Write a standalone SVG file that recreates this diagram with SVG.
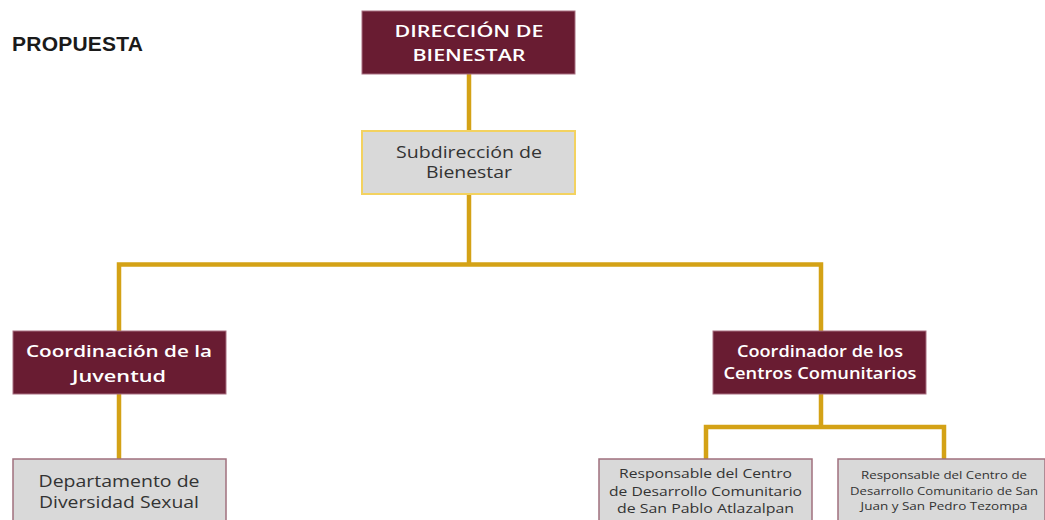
<svg xmlns="http://www.w3.org/2000/svg" width="1045" height="520" viewBox="0 0 1045 520">
<style>
.dark{fill:#691c32;stroke:#a86f80;stroke-width:1}
.gray{fill:#d9d9d9;stroke:#a0707e;stroke-width:1.5}
.sub{fill:#d9d9d9;stroke:#f3d260;stroke-width:2}
.wt{fill:#ffffff;font-family:"Open Sans","Noto Sans",sans-serif;font-weight:600;text-anchor:middle}
.gt{fill:#333333;font-family:"Open Sans","Noto Sans",sans-serif;text-anchor:middle}
.ln{fill:none;stroke:#d4a216;stroke-width:4.5}
</style>
<rect width="1045" height="520" fill="#ffffff"/>
<text x="12" y="51" font-family="'Liberation Sans',Arial,sans-serif" font-weight="bold" font-size="21" fill="#1a1a1a" textLength="131">PROPUESTA</text>
<g id="connectors">
<path class="ln" d="M469 74V131"/>
<path class="ln" d="M469 194V264.5"/>
<path class="ln" d="M119 331V264.5H821V331"/>
<path class="ln" d="M119 394V459"/>
<path class="ln" d="M821 394V427"/>
<path class="ln" d="M706 459V427H944V459"/>
</g>
<g id="direccion">
<rect class="dark" x="362" y="11" width="213" height="63"/>
<text class="wt" font-size="17" x="469" y="37" textLength="149" lengthAdjust="spacingAndGlyphs">DIRECCIÓN DE</text>
<text class="wt" font-size="17" x="469" y="61" textLength="113" lengthAdjust="spacingAndGlyphs">BIENESTAR</text>
</g>
<g id="subdireccion">
<rect class="sub" x="362" y="131" width="213" height="63"/>
<text class="gt" font-size="16" x="469" y="158" textLength="146" lengthAdjust="spacingAndGlyphs">Subdirección de</text>
<text class="gt" font-size="16" x="469" y="178" textLength="86" lengthAdjust="spacingAndGlyphs">Bienestar</text>
</g>
<g id="coord-juventud">
<rect class="dark" x="13" y="331" width="213" height="63"/>
<text class="wt" font-size="17" x="119" y="357" textLength="186" lengthAdjust="spacingAndGlyphs">Coordinación de la</text>
<text class="wt" font-size="17" x="119" y="382" textLength="94" lengthAdjust="spacingAndGlyphs">Juventud</text>
</g>
<g id="diversidad">
<rect class="gray" x="13" y="459" width="213" height="70"/>
<text class="gt" font-size="17" x="119" y="487" textLength="161" lengthAdjust="spacingAndGlyphs">Departamento de</text>
<text class="gt" font-size="17" x="119" y="508" textLength="160" lengthAdjust="spacingAndGlyphs">Diversidad Sexual</text>
</g>
<g id="coord-centros">
<rect class="dark" x="713" y="331" width="213" height="63"/>
<text class="wt" font-size="16" x="820" y="357" textLength="166" lengthAdjust="spacingAndGlyphs">Coordinador de los</text>
<text class="wt" font-size="16" x="820" y="379" textLength="193" lengthAdjust="spacingAndGlyphs">Centros Comunitarios</text>
</g>
<g id="atlazalpan">
<rect class="gray" x="599" y="459" width="213" height="70"/>
<text class="gt" font-size="13.5" x="705.5" y="478" textLength="173" lengthAdjust="spacingAndGlyphs">Responsable del Centro</text>
<text class="gt" font-size="13.5" x="705.5" y="496" textLength="193" lengthAdjust="spacingAndGlyphs">de Desarrollo Comunitario</text>
<text class="gt" font-size="13.5" x="705.5" y="513" textLength="177" lengthAdjust="spacingAndGlyphs">de San Pablo Atlazalpan</text>
</g>
<g id="tezompa">
<rect class="gray" x="838" y="459" width="207" height="70"/>
<text class="gt" font-size="11" x="944" y="479" textLength="166" lengthAdjust="spacingAndGlyphs">Responsable del Centro de</text>
<text class="gt" font-size="11" x="944" y="495" textLength="188" lengthAdjust="spacingAndGlyphs">Desarrollo Comunitario de San</text>
<text class="gt" font-size="11" x="944" y="510" textLength="167" lengthAdjust="spacingAndGlyphs">Juan y San Pedro Tezompa</text>
</g>
</svg>
